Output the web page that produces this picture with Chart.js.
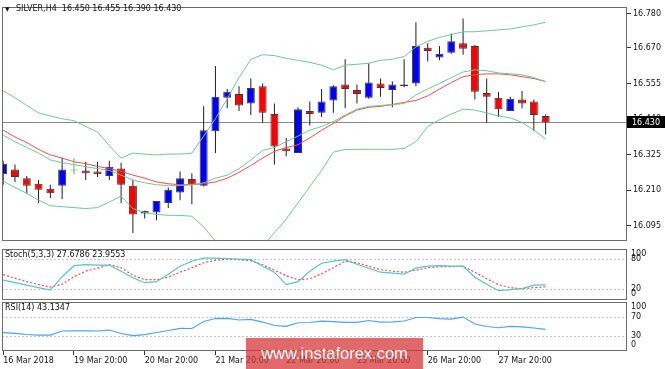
<!DOCTYPE html>
<html><head><meta charset="utf-8">
<script src="https://cdn.jsdelivr.net/npm/chart.js@4.4.1/dist/chart.umd.min.js"></script>
<style>
html,body{margin:0;padding:0;background:#fff;}
#wrap{position:relative;width:665px;height:369px;overflow:hidden;font-family:"DejaVu Sans",sans-serif;background:#fff;}
canvas{position:absolute;left:0;}
.t{position:absolute;font-size:8px;color:#111;white-space:pre;line-height:10px;z-index:3;}
#wm{position:absolute;left:246px;top:338px;width:177px;height:31px;background:rgba(214,52,52,0.74);color:#fff;font-family:"Liberation Sans",Arial,sans-serif;font-size:16.5px;line-height:31px;text-align:center;z-index:4;}
</style></head><body>
<div id="wrap">
<canvas id="cMain" width="665" height="248" style="top:0"></canvas>
<canvas id="cStoch" width="665" height="51" style="top:249px"></canvas>
<canvas id="cRsi" width="665" height="67" style="top:302px"></canvas>
<div class="t" style="left:5px;top:4px;font-size:6px">▼</div>
<div class="t" style="left:16px;top:4px">SILVER,H4  16.450 16.455 16.390 16.430</div>
<div class="t" style="left:5px;top:250px">Stoch(5,3,3) 27.6786 23.9553</div>
<div class="t" style="left:5px;top:303px">RSI(14) 43.1347</div>
<div id="wm">www.instaforex.com</div>
</div>
<script>
// ---- data (SILVER H4) ----
const openP  = [16.262,16.277,16.249,16.231,16.215,16.225,16.274,16.274,16.271,16.256,16.280,16.225,16.135,16.138,16.169,16.203,16.246,16.225,16.401,16.509,16.521,16.490,16.546,16.456,16.345,16.330,16.466,16.460,16.500,16.552,16.534,16.509,16.555,16.534,16.546,16.555,16.670,16.639,16.654,16.685,16.676,16.524,16.509,16.466,16.503,16.497,16.450];
const highP  = [16.305,16.293,16.256,16.243,16.228,16.314,16.314,16.302,16.302,16.305,16.299,16.243,16.144,16.175,16.219,16.271,16.265,16.481,16.611,16.537,16.546,16.571,16.555,16.490,16.379,16.478,16.497,16.537,16.549,16.633,16.552,16.620,16.571,16.562,16.633,16.753,16.685,16.676,16.716,16.765,16.679,16.571,16.528,16.512,16.531,16.503,16.455];
const lowP   = [16.228,16.237,16.200,16.169,16.185,16.182,16.262,16.243,16.253,16.243,16.169,16.072,16.119,16.113,16.153,16.178,16.165,16.222,16.330,16.475,16.466,16.453,16.428,16.293,16.320,16.330,16.419,16.447,16.460,16.475,16.490,16.506,16.512,16.478,16.543,16.546,16.626,16.630,16.651,16.648,16.503,16.428,16.447,16.466,16.475,16.401,16.390];
const closeP = [16.296,16.253,16.225,16.212,16.200,16.277,16.274,16.265,16.262,16.286,16.228,16.132,16.144,16.175,16.212,16.249,16.228,16.404,16.512,16.528,16.484,16.540,16.460,16.351,16.336,16.472,16.456,16.497,16.546,16.537,16.521,16.558,16.540,16.552,16.552,16.676,16.660,16.651,16.691,16.667,16.528,16.512,16.472,16.506,16.490,16.453,16.430];
const bbUpper  = [16.531,16.509,16.484,16.460,16.450,16.441,16.435,16.416,16.398,16.354,16.314,16.330,16.327,16.324,16.327,16.327,16.330,16.385,16.441,16.506,16.574,16.633,16.648,16.645,16.636,16.630,16.623,16.614,16.599,16.614,16.617,16.620,16.630,16.633,16.642,16.673,16.691,16.704,16.713,16.722,16.722,16.725,16.728,16.731,16.738,16.744,16.753];
const bbMiddle = [16.388,16.367,16.348,16.330,16.308,16.299,16.293,16.286,16.280,16.274,16.259,16.243,16.234,16.228,16.225,16.225,16.228,16.234,16.249,16.259,16.280,16.308,16.339,16.348,16.367,16.385,16.404,16.416,16.432,16.453,16.472,16.481,16.484,16.487,16.490,16.518,16.537,16.555,16.574,16.592,16.599,16.596,16.589,16.586,16.583,16.574,16.561];
const bbLower  = [16.240,16.219,16.200,16.178,16.160,16.157,16.154,16.151,16.154,16.172,16.191,16.151,16.138,16.132,16.129,16.129,16.126,16.092,16.045,16.005,15.974,15.981,16.027,16.073,16.117,16.169,16.222,16.274,16.333,16.342,16.342,16.342,16.342,16.342,16.345,16.367,16.416,16.438,16.456,16.472,16.469,16.460,16.450,16.444,16.429,16.404,16.376];
const maLine   = [16.404,16.382,16.364,16.342,16.324,16.314,16.302,16.296,16.287,16.280,16.271,16.259,16.249,16.237,16.231,16.228,16.228,16.231,16.237,16.249,16.268,16.290,16.314,16.336,16.348,16.357,16.379,16.404,16.426,16.450,16.469,16.478,16.481,16.487,16.494,16.500,16.515,16.537,16.558,16.577,16.583,16.586,16.586,16.583,16.577,16.571,16.561];
const stochMain   = [37,32,27,22,17,44,66,68,67,67,55,42,32,34,49,65,75,81,81,80,79,78,65,53,28,34,55,71,75,78,69,61,53,51,49,61,65,66,65,65,43,29,16,18,20,27,27.68];
const stochSignal = [48,41,34,28,23,29,44,55,61,68,62,47,38,38,43,53,62,72,77,79,78,76,68,57,46,38,40,50,62,75,72,65,58,55,53,57,62,64,64,65,53,40,28,22,20,22,23.96];
const rsiVals     = [36.5,34.8,32.2,30.7,31,39.8,40.4,40.2,39.8,41.9,34.4,29.6,32,36.5,40.9,45.6,45.2,60.3,66.8,67.2,63.6,65.1,59.2,51.7,49.9,57.7,58.2,61,59.9,58.6,58.6,62.5,59.2,59.7,61.4,69,69,66.8,65.7,70,54.9,49.5,46.9,49.9,48.9,46.3,43.13];
const priceTicks = [16.095,16.210,16.325,16.440,16.555,16.670,16.780];
const timeIdx    = [0,6,12,18,24,30,36,42];
const timeLabels = ["16 Mar 2018","19 Mar 20:00","20 Mar 20:00","21 Mar 20:00","22 Mar 20:00","23 Mar 20:00","26 Mar 20:00","27 Mar 20:00"];
const stochLevels = [20,80], stochLabels = [0,20,80,100];
const rsiLevels = [30,70], rsiLabels = [0,30,70,100];

// ---- chart ----
const N = closeP.length;
const idx = Array.from({length:N},(_,i)=>i);
const X_MIN = -0.1, X_MAX = 52.9;
const FONT = {family:"DejaVu Sans", size:8};
const GREEN = '#3ccf3c';
const bodyCol = i => closeP[i]>openP[i] ? '#0000ff' : (closeP[i]<openP[i] ? '#ff0000' : GREEN);
const isDoji = i => closeP[i]===openP[i];
const pts = arr => idx.map(i=>({x:i,y:arr[i]}));
const common = {responsive:false, animation:false, events:[], plugins:{legend:{display:false},tooltip:{enabled:false}}};

const framePlugin = {id:'frame', afterDraw(c){const a=c.chartArea,x=c.ctx;x.save();x.strokeStyle='#6b6b6b';x.lineWidth=1;
  x.strokeRect(Math.round(a.left)+0.5,Math.round(a.top)+0.5,Math.round(a.right-a.left)-1,Math.round(a.bottom-a.top)-1);x.restore();}};

const pricePlugin = {id:'price',
  beforeDatasetsDraw(c){const a=c.chartArea,x=c.ctx,y=Math.round(c.scales.y.getPixelForValue(closeP[N-1]))+0.5;
    x.save();x.strokeStyle='#8a8a8a';x.lineWidth=1;x.beginPath();x.moveTo(a.left,y);x.lineTo(a.right,y);x.stroke();x.restore();},
  afterDraw(c){const a=c.chartArea,x=c.ctx,y=Math.round(c.scales.y.getPixelForValue(closeP[N-1]));
    x.save();x.fillStyle='#000';x.fillRect(a.right,y-6,38,12);x.fillStyle='#fff';x.font='8px "DejaVu Sans"';x.textBaseline='middle';x.textAlign='left';
    x.fillText(closeP[N-1].toFixed(3),a.right+5,y+0.5);x.restore();}};

function levelPlugin(levels, labels){return {id:'lv',
  beforeDatasetsDraw(c){const a=c.chartArea,x=c.ctx,s=c.scales.y;x.save();x.strokeStyle='#c4c4c4';x.lineWidth=1;x.setLineDash([2,2]);
    levels.forEach(v=>{const p=Math.round(s.getPixelForValue(v))+0.5;x.beginPath();x.moveTo(a.left,p);x.lineTo(a.right,p);x.stroke();});x.restore();},
  afterDraw(c){const a=c.chartArea,x=c.ctx,s=c.scales.y;x.save();x.fillStyle='#111';x.font='8px "DejaVu Sans"';x.textBaseline='middle';x.textAlign='left';
    labels.forEach(v=>{let p=s.getPixelForValue(v);p=Math.max(a.top+5,Math.min(a.bottom-6,p));x.fillText(String(v),a.right+4,p);});x.restore();}};}

new Chart(document.getElementById('cMain'), {
  type:'bar',
  data:{datasets:[
    {type:'line',data:pts(bbUpper),borderColor:'#6cc79a',borderWidth:1,pointRadius:0,order:0},
    {type:'line',data:pts(bbMiddle),borderColor:'#6cc79a',borderWidth:1,pointRadius:0,order:0},
    {type:'line',data:pts(bbLower),borderColor:'#6cc79a',borderWidth:1,pointRadius:0,order:0},
    {type:'line',data:pts(maLine),borderColor:'#ff4a4a',borderWidth:1,pointRadius:0,order:0},
    {type:'bar',data:idx.map(i=>({x:i,y:[openP[i],closeP[i]]})),backgroundColor:idx.map(bodyCol),
     borderColor:idx.map(i=>isDoji(i)?GREEN:'#3a3a3a'),borderWidth:1,borderSkipped:false,barThickness:8,minBarLength:1,grouped:false,inflateAmount:0,order:1},
    {type:'bar',data:idx.map(i=>({x:i,y:[lowP[i],highP[i]]})),backgroundColor:idx.map(i=>isDoji(i)?GREEN:'#1e1e1e'),
     borderWidth:0,barThickness:1,grouped:false,inflateAmount:0,order:2}
  ]},
  options:{...common, layout:{padding:{left:2,top:2,right:0,bottom:1}},
    scales:{
      x:{type:'linear',min:X_MIN,max:X_MAX,display:false,offset:false},
      y:{type:'linear',position:'right',min:16.0455,max:16.8026,
         afterBuildTicks:s=>{s.ticks=priceTicks.map(v=>({value:v}));},
         afterFit:s=>{s.width=38;},
         grid:{drawOnChartArea:false,drawTicks:true,tickLength:4,color:'#333'},
         border:{display:false},
         ticks:{autoSkip:false,padding:2,color:'#111',font:FONT,callback:v=>Number(v).toFixed(3)}}
    }},
  plugins:[framePlugin,pricePlugin]
});

new Chart(document.getElementById('cStoch'), {
  type:'line',
  data:{datasets:[
    {data:pts(stochMain),borderColor:'#58c6bd',borderWidth:1.2,pointRadius:0},
    {data:pts(stochSignal),borderColor:'#ff4545',borderWidth:1.2,borderDash:[2,2],pointRadius:0}
  ]},
  options:{...common, layout:{padding:{left:2,top:0,right:38,bottom:0}},
    scales:{x:{type:'linear',min:X_MIN,max:X_MAX,display:false},y:{min:-2.6,max:99.4,display:false}}},
  plugins:[framePlugin,levelPlugin(stochLevels,stochLabels)]
});

new Chart(document.getElementById('cRsi'), {
  type:'line',
  data:{datasets:[{data:pts(rsiVals),borderColor:'#4aa3ff',borderWidth:1.2,pointRadius:0}]},
  options:{...common, layout:{padding:{left:2,top:0,right:38,bottom:0}},
    scales:{
      x:{type:'linear',min:X_MIN,max:X_MAX,
         afterBuildTicks:s=>{s.ticks=timeIdx.map(v=>({value:v}));},
         afterFit:s=>{s.height=18;},
         grid:{drawOnChartArea:false,drawTicks:true,tickLength:4,color:'#333'},
         border:{display:false},
         ticks:{autoSkip:false,maxRotation:0,align:'start',padding:1,color:'#111',font:FONT,
                callback:v=>timeLabels[timeIdx.indexOf(v)]}},
      y:{min:-3.5,max:102.6,display:false}}},
  plugins:[framePlugin,levelPlugin(rsiLevels,rsiLabels)]
});
</script>
</body></html>
